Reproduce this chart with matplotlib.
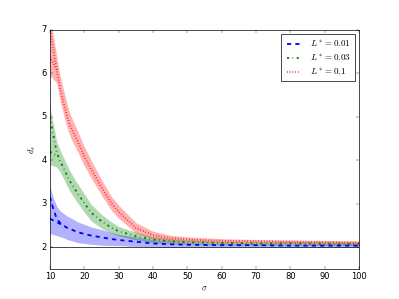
import matplotlib
matplotlib.use("Agg")
import matplotlib.pyplot as plt
import numpy as np

plt.style.use("classic")
plt.rcParams["mathtext.fontset"] = "cm"

sigma = [10, 11, 12, 13, 14, 15, 16, 18, 20, 22, 25, 28, 30, 35, 40, 45, 50, 60, 70, 80, 90, 100]

# L* = 0.01
blue_y = [3.16, 2.88, 2.66, 2.56, 2.50, 2.45, 2.42, 2.35, 2.31, 2.27, 2.23, 2.19,
          2.17, 2.13, 2.09, 2.07, 2.06, 2.05, 2.05, 2.04, 2.04, 2.04]
blue_err = [0.24, 0.26, 0.28, 0.28, 0.28, 0.27, 0.26, 0.24, 0.22, 0.20, 0.18, 0.15,
            0.13, 0.11, 0.09, 0.07, 0.05, 0.04, 0.04, 0.04, 0.04, 0.04]
# stray first sample for L* = 0.01
blue_first_x = [10, 14]
blue_first_y = [2.66, 2.50]
blue_first_err = [0.34, 0.28]

# L* = 0.03
green_y = [5.00, 4.58, 4.18, 3.98, 3.82, 3.65, 3.50, 3.25, 3.02, 2.80, 2.60, 2.45,
           2.37, 2.26, 2.18, 2.14, 2.12, 2.10, 2.09, 2.09, 2.08, 2.08]
green_err = [0.25, 0.25, 0.25, 0.25, 0.24, 0.24, 0.23, 0.22, 0.21, 0.19, 0.16, 0.13,
             0.11, 0.09, 0.07, 0.06, 0.05, 0.04, 0.04, 0.04, 0.04, 0.04]
green_first_x = [10, 12.5]
green_first_y = [4.20, 4.08]
green_first_err = [0.30, 0.25]

# L* = 0.1
red_y = [7.05, 6.55, 6.08, 5.65, 5.33, 5.02, 4.78, 4.45, 4.10, 3.80, 3.38, 3.00,
         2.82, 2.45, 2.28, 2.21, 2.18, 2.15, 2.14, 2.13, 2.12, 2.11]
red_err = [0.35, 0.33, 0.30, 0.29, 0.28, 0.27, 0.26, 0.24, 0.22, 0.20, 0.18, 0.16,
           0.15, 0.12, 0.09, 0.07, 0.06, 0.05, 0.04, 0.04, 0.04, 0.04]
red_first_x = [10, 12]
red_first_y = [6.38, 6.08]
red_first_err = [0.43, 0.30]

series = [
    (blue_y, blue_err, blue_first_x, blue_first_y, blue_first_err, "b", "--", r"$L^*=0.01$"),
    (green_y, green_err, green_first_x, green_first_y, green_first_err, "g", "-.", r"$L^*=0.03$"),
    (red_y, red_err, red_first_x, red_first_y, red_first_err, "r", ":", r"$L^*=0.1$"),
]

fig, ax = plt.subplots(figsize=(7.98, 5.98), dpi=50)

xs = np.array(sigma, dtype=float)
for y, err, fx, fy, ferr, c, ls, lab in series:
    y, err = np.array(y), np.array(err)
    fy, ferr = np.array(fy), np.array(ferr)
    # one band covering both the curve and the stray first sample
    lo, hi = y - err, y + err
    inside = xs <= fx[-1]
    flo = np.interp(xs, fx, fy - ferr)
    fhi = np.interp(xs, fx, fy + ferr)
    lo = np.where(inside, np.minimum(lo, flo), lo)
    hi = np.where(inside, np.maximum(hi, fhi), hi)
    ax.fill_between(xs, lo, hi, color=c, alpha=0.3, linewidth=0)
    ax.plot(xs, y, color=c, linestyle=ls, linewidth=2.6, label=lab)
    ax.plot(fx, fy, color=c, linestyle=ls, linewidth=2.6)

ax.axhline(2, color="k", linewidth=1)

ax.set_xlim(10, 100)
ax.set_ylim(1.5, 7)
ax.set_yticks([2, 3, 4, 5, 6, 7])
ax.set_xlabel(r"$\sigma$")
ax.set_ylabel(r"$d_s$")
ax.legend(loc="upper right", fontsize=13, labelspacing=0.35)

fig.savefig("out.png", dpi=50)
